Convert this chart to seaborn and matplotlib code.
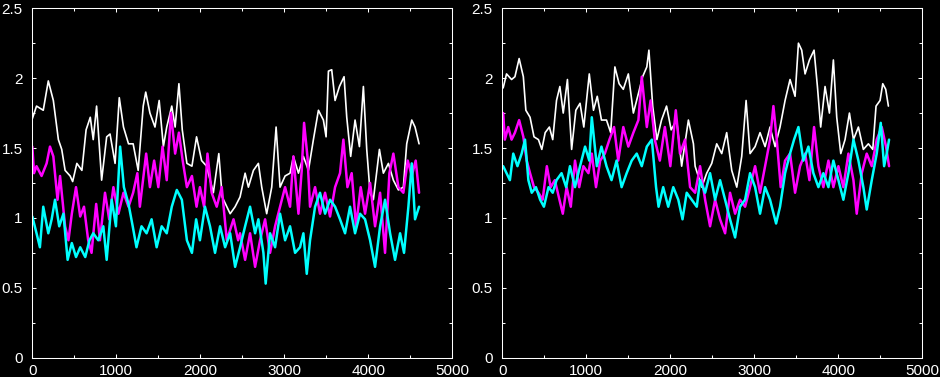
import matplotlib
matplotlib.use("Agg")
import matplotlib.pyplot as plt
import pandas as pd
import seaborn as sns
from matplotlib.ticker import MultipleLocator

# ---------------------------------------------------------------------------
#   Data (x position, value)
# ---------------------------------------------------------------------------
left_white_x = [0, 50, 130, 190, 250, 310, 350, 390, 450, 480, 530, 590, 640, 690, 725, 765,
                825, 885, 925, 985, 1035, 1085, 1145, 1200, 1260, 1320, 1350, 1400, 1460,
                1510, 1560, 1600, 1660, 1700, 1745, 1785, 1840, 1900, 1955, 2015, 2075,
                2155, 2220, 2260, 2355, 2414, 2473, 2533, 2572, 2632, 2691, 2731, 2790,
                2850, 2902, 2949, 3009, 3068, 3108, 3168, 3227, 3287, 3346, 3406, 3465,
                3497, 3525, 3564, 3604, 3656, 3711, 3743, 3790, 3842, 3894, 3941, 3981,
                4021, 4060, 4132, 4179, 4239, 4298, 4358, 4417, 4457, 4517, 4556, 4604]
left_white_y = [1.71, 1.80, 1.77, 1.98, 1.84, 1.56, 1.49, 1.34, 1.30, 1.26, 1.39, 1.34, 1.63,
                1.72, 1.56, 1.80, 1.27, 1.58, 1.60, 1.39, 1.86, 1.65, 1.53, 1.53, 1.34, 1.80,
                1.90, 1.75, 1.65, 1.84, 1.51, 1.65, 1.80, 1.65, 1.96, 1.63, 1.39, 1.37, 1.58,
                1.41, 1.37, 1.18, 1.46, 1.15, 1.03, 1.08, 1.15, 1.32, 1.22, 1.34, 1.39, 1.22,
                1.03, 1.22, 1.65, 1.22, 1.30, 1.32, 1.44, 1.32, 1.44, 1.34, 1.56, 1.77, 1.70,
                1.58, 2.05, 2.06, 1.84, 1.94, 2.01, 1.72, 1.44, 1.70, 1.51, 1.94, 1.49, 1.18,
                1.13, 1.49, 1.32, 1.39, 1.27, 1.20, 1.22, 1.53, 1.70, 1.65, 1.53]

left_magenta_x = [0, 20, 50, 110, 170, 210, 250, 300, 330, 390, 430, 470, 520, 570, 615, 665,
                  705, 760, 805, 865, 915, 965, 1025, 1085, 1145, 1200, 1250, 1280, 1355,
                  1400, 1450, 1500, 1550, 1600, 1650, 1700, 1745, 1790, 1840, 1900, 1955,
                  1995, 2045, 2085, 2135, 2195, 2255, 2315, 2395, 2450, 2473, 2533, 2592,
                  2652, 2711, 2771, 2830, 2890, 2949, 3009, 3068, 3108, 3168, 3207, 3235,
                  3275, 3306, 3366, 3425, 3485, 3544, 3604, 3663, 3703, 3751, 3802, 3854,
                  3909, 3961, 4021, 4080, 4140, 4199, 4251, 4298, 4358, 4417, 4469, 4517,
                  4564, 4604]
left_magenta_y = [1.51, 1.32, 1.37, 1.30, 1.39, 1.51, 1.44, 1.13, 1.30, 0.94, 0.84, 1.03, 1.22,
                  1.01, 1.08, 0.84, 0.75, 1.10, 0.84, 1.18, 0.99, 1.22, 1.03, 1.18, 1.08, 1.18,
                  1.32, 1.08, 1.46, 1.22, 1.41, 1.22, 1.51, 1.27, 1.75, 1.46, 1.61, 1.41, 1.22,
                  1.30, 1.08, 1.22, 1.08, 1.46, 1.18, 1.08, 1.22, 0.84, 0.99, 0.84, 0.89, 0.70,
                  0.89, 0.65, 0.84, 0.99, 0.75, 0.94, 1.08, 1.22, 1.08, 1.44, 1.03, 1.34, 1.68,
                  1.44, 1.08, 1.22, 1.03, 1.18, 1.01, 1.22, 1.32, 1.56, 1.22, 1.32, 0.94, 1.22,
                  1.03, 1.25, 0.94, 1.18, 0.75, 1.32, 1.46, 1.22, 1.18, 1.41, 1.30, 1.41, 1.18]

left_cyan_x = [0, 50, 90, 130, 190, 230, 270, 320, 370, 420, 470, 520, 570, 630, 680, 725,
               785, 845, 885, 945, 995, 1045, 1090, 1145, 1195, 1240, 1300, 1360, 1420, 1480,
               1540, 1600, 1660, 1720, 1780, 1840, 1900, 1950, 1995, 2055, 2115, 2175, 2235,
               2295, 2355, 2414, 2473, 2533, 2592, 2652, 2691, 2751, 2778, 2830, 2890, 2949,
               3009, 3068, 3128, 3187, 3227, 3267, 3306, 3366, 3425, 3485, 3544, 3604, 3663,
               3723, 3782, 3842, 3901, 3961, 4021, 4080, 4140, 4199, 4259, 4318, 4378, 4425,
               4477, 4517, 4556, 4604]
left_cyan_y = [1.01, 0.89, 0.79, 1.08, 0.89, 0.99, 1.13, 0.94, 1.03, 0.70, 0.82, 0.72, 0.79,
               0.72, 0.84, 0.89, 0.84, 0.94, 0.70, 1.13, 0.94, 1.51, 1.22, 1.10, 0.94, 0.79,
               0.94, 0.89, 0.99, 0.79, 0.94, 0.89, 1.08, 1.20, 1.13, 0.84, 0.75, 0.99, 0.84,
               1.08, 0.94, 0.75, 0.94, 0.79, 0.89, 0.65, 0.79, 0.94, 1.08, 0.89, 0.99, 0.75,
               0.53, 0.89, 0.79, 1.03, 0.84, 0.94, 0.75, 0.79, 0.89, 0.60, 0.84, 1.08, 1.18,
               1.03, 1.13, 1.08, 0.99, 0.89, 1.08, 0.89, 1.03, 0.99, 0.84, 0.65, 0.94, 1.13,
               0.89, 0.70, 0.89, 0.75, 1.08, 1.39, 0.99, 1.08]

right_white_x = [10, 50, 110, 150, 200, 250, 280, 330, 377, 430, 470, 510, 560, 600, 645, 685,
                 725, 775, 825, 875, 925, 970, 1035, 1085, 1130, 1180, 1240, 1290, 1340, 1390,
                 1440, 1500, 1560, 1620, 1670, 1720, 1745, 1790, 1840, 1895, 1955, 2010, 2075,
                 2135, 2215, 2275, 2295, 2374, 2433, 2493, 2552, 2612, 2671, 2731, 2791, 2850,
                 2902, 2949, 3009, 3068, 3128, 3187, 3247, 3306, 3366, 3425, 3485, 3525, 3564,
                 3604, 3656, 3711, 3751, 3790, 3842, 3894, 3941, 3981, 4029, 4080, 4132, 4180,
                 4239, 4298, 4358, 4410, 4449, 4497, 4529, 4564, 4596]
right_white_y = [1.93, 2.03, 1.99, 2.01, 2.14, 2.01, 1.77, 1.72, 1.58, 1.56, 1.49, 1.61, 1.65,
                 1.56, 1.84, 1.94, 1.75, 1.99, 1.49, 1.77, 1.82, 1.65, 2.03, 1.77, 1.87, 1.70,
                 1.70, 1.61, 2.08, 1.96, 1.92, 2.03, 1.75, 1.89, 2.01, 2.08, 2.20, 1.80, 1.56,
                 1.70, 1.80, 1.63, 1.70, 1.37, 1.70, 1.53, 1.37, 1.22, 1.32, 1.39, 1.53, 1.46,
                 1.61, 1.34, 1.22, 1.44, 1.84, 1.46, 1.51, 1.61, 1.51, 1.65, 1.51, 1.65, 1.84,
                 1.99, 1.87, 2.25, 2.20, 2.03, 2.13, 2.20, 1.94, 1.65, 1.94, 1.75, 2.13, 1.72,
                 1.46, 1.56, 1.75, 1.56, 1.65, 1.49, 1.53, 1.49, 1.80, 1.84, 1.96, 1.92, 1.80]

right_magenta_x = [10, 30, 70, 110, 150, 200, 250, 290, 330, 377, 430, 480, 530, 575, 625,
                   680, 720, 765, 815, 865, 915, 965, 1025, 1065, 1115, 1165, 1220, 1275,
                   1330, 1380, 1440, 1500, 1560, 1620, 1660, 1720, 1765, 1815, 1875, 1935,
                   2000, 2065, 2115, 2175, 2235, 2295, 2354, 2414, 2473, 2533, 2592, 2652,
                   2711, 2771, 2830, 2890, 2949, 3009, 3068, 3128, 3187, 3227, 3267, 3314,
                   3366, 3425, 3485, 3544, 3604, 3656, 3711, 3763, 3822, 3882, 3941, 4001,
                   4060, 4120, 4180, 4219, 4279, 4338, 4398, 4457, 4517, 4568, 4604]
right_magenta_y = [1.75, 1.56, 1.65, 1.56, 1.61, 1.70, 1.58, 1.41, 1.32, 1.22, 1.18, 1.13,
                   1.37, 1.22, 1.27, 1.13, 1.03, 1.22, 1.08, 1.41, 1.22, 1.37, 1.32, 1.46,
                   1.22, 1.41, 1.46, 1.56, 1.65, 1.41, 1.65, 1.51, 1.61, 1.70, 2.01, 1.65,
                   1.84, 1.56, 1.41, 1.65, 1.37, 1.77, 1.46, 1.56, 1.22, 1.18, 1.37, 1.13,
                   0.94, 1.13, 0.99, 0.89, 1.18, 1.03, 1.13, 1.08, 1.22, 1.37, 1.18, 1.37,
                   1.56, 1.80, 1.56, 1.22, 1.41, 1.46, 1.18, 1.37, 1.46, 1.27, 1.65, 1.37,
                   1.22, 1.41, 1.22, 1.37, 1.22, 1.46, 1.27, 1.03, 1.32, 1.46, 1.37, 1.56,
                   1.65, 1.51, 1.37]

right_cyan_x = [10, 50, 90, 130, 180, 230, 270, 310, 350, 400, 450, 495, 550, 600, 645, 705,
                760, 805, 865, 925, 985, 1035, 1065, 1125, 1180, 1240, 1300, 1360, 1420, 1480,
                1540, 1600, 1660, 1720, 1780, 1830, 1860, 1915, 1975, 2035, 2095, 2145, 2195,
                2255, 2315, 2354, 2414, 2473, 2533, 2592, 2652, 2711, 2771, 2830, 2890, 2949,
                3009, 3068, 3128, 3187, 3259, 3306, 3366, 3425, 3473, 3525, 3584, 3644, 3703,
                3763, 3822, 3882, 3941, 4001, 4060, 4120, 4180, 4239, 4298, 4338, 4398, 4457,
                4505, 4545, 4576, 4604]
right_cyan_y = [1.37, 1.32, 1.27, 1.46, 1.37, 1.46, 1.56, 1.27, 1.18, 1.22, 1.13, 1.08, 1.22,
                1.18, 1.27, 1.32, 1.22, 1.37, 1.22, 1.37, 1.51, 1.41, 1.72, 1.37, 1.51, 1.37,
                1.27, 1.41, 1.22, 1.32, 1.41, 1.46, 1.37, 1.51, 1.56, 1.22, 1.08, 1.22, 1.08,
                1.22, 1.13, 0.99, 1.18, 1.13, 1.08, 1.27, 1.18, 1.32, 1.13, 1.27, 1.13, 0.99,
                0.86, 1.08, 1.13, 1.32, 1.22, 1.03, 1.22, 1.13, 0.96, 1.08, 1.32, 1.46, 1.56,
                1.65, 1.41, 1.51, 1.32, 1.22, 1.32, 1.22, 1.41, 1.27, 1.13, 1.32, 1.56, 1.41,
                1.22, 1.06, 1.27, 1.46, 1.68, 1.37, 1.46, 1.56]

x_ticks = [0, 1000, 2000, 3000, 4000, 5000]
y_ticks = [0, 0.5, 1, 1.5, 2, 2.5]
y_tick_labels = ['0', '0.5', '1', '1.5', '2', '2.5']

palette = {'white': '#ffffff', 'magenta': '#ff00ff', 'cyan': '#00ffff'}
widths = {'white': 1.2, 'magenta': 1.8, 'cyan': 1.8}

panels = [
    {'white': (left_white_x, left_white_y),
     'magenta': (left_magenta_x, left_magenta_y),
     'cyan': (left_cyan_x, left_cyan_y)},
    {'white': (right_white_x, right_white_y),
     'magenta': (right_magenta_x, right_magenta_y),
     'cyan': (right_cyan_x, right_cyan_y)},
]

# ---------------------------------------------------------------------------
#   Plot
# ---------------------------------------------------------------------------
sns.set_theme(style='dark', rc={'axes.facecolor': 'black', 'figure.facecolor': 'black'})
plt.rcParams['font.family'] = ['Liberation Sans', 'DejaVu Sans']

fig = plt.figure(figsize=(9.4, 3.77), dpi=100)
axes = [fig.add_axes([0.0344, 0.0512, 0.4468, 0.927]),
        fig.add_axes([0.5344, 0.0512, 0.4468, 0.927])]

for ax, series in zip(axes, panels):
    for name, (xs, ys) in series.items():
        df = pd.DataFrame({'x': xs, 'y': ys})
        sns.lineplot(data=df, x='x', y='y', color=palette[name], lw=widths[name],
                     estimator=None, sort=False, ax=ax)

    ax.set(xlim=(0, 5000), ylim=(0, 2.5), xlabel='', ylabel='')
    ax.set_xticks(x_ticks)
    ax.set_xticklabels([str(t) for t in x_ticks])
    ax.set_yticks(y_ticks)
    ax.set_yticklabels(y_tick_labels)
    ax.xaxis.set_minor_locator(MultipleLocator(500))
    ax.yaxis.set_minor_locator(MultipleLocator(0.25))
    ax.tick_params(which='both', direction='in', colors='white', top=True, right=True,
                   bottom=True, left=True, width=0.75, labelsize=11)
    ax.tick_params(which='major', length=3.2)
    ax.tick_params(which='minor', length=2)
    ax.tick_params(axis='x', pad=4.5)
    ax.tick_params(axis='y', pad=7)
    for spine in ax.spines.values():
        spine.set_visible(True)
        spine.set_color('white')
        spine.set_linewidth(0.75)
    ax.grid(False)

fig.savefig('out.png', dpi=100, facecolor='black')
